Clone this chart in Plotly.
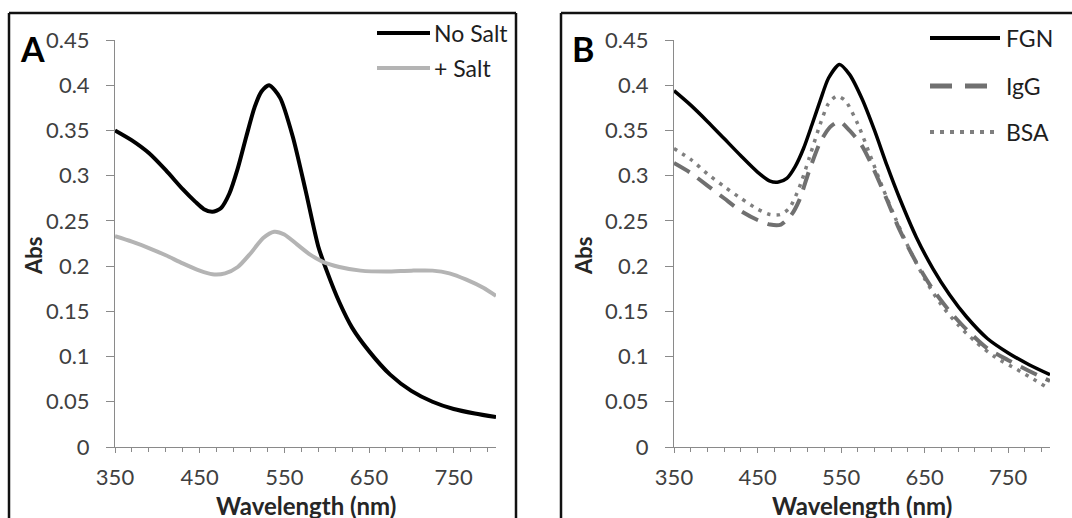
import plotly.graph_objects as go

W, H = 1072, 518

# ---------------- data ----------------
wl_nosalt = [350, 370, 390, 410, 430, 445, 455, 465, 475, 485, 495, 505, 515, 523, 532, 545, 560, 575, 590, 600, 615, 630, 650, 675, 700, 725, 750, 775, 800]
abs_nosalt = [0.350, 0.339, 0.325, 0.306, 0.285, 0.271, 0.263, 0.260, 0.264, 0.280, 0.308, 0.343, 0.376, 0.393, 0.400, 0.386, 0.343, 0.284, 0.222, 0.195, 0.160, 0.132, 0.106, 0.080, 0.062, 0.050, 0.042, 0.037, 0.033]

wl_salt = [350, 370, 390, 410, 430, 450, 465, 480, 495, 510, 525, 538, 550, 565, 580, 595, 615, 640, 670, 700, 725, 745, 765, 785, 800]
abs_salt = [0.233, 0.227, 0.220, 0.212, 0.203, 0.195, 0.191, 0.192, 0.199, 0.214, 0.231, 0.238, 0.235, 0.224, 0.213, 0.205, 0.199, 0.195, 0.194, 0.195, 0.195, 0.192, 0.185, 0.176, 0.167]

wl_fgn = [350, 370, 390, 410, 430, 450, 465, 475, 485, 495, 505, 515, 525, 535, 548, 560, 575, 590, 605, 620, 640, 660, 680, 700, 725, 750, 775, 800]
abs_fgn = [0.394, 0.378, 0.360, 0.341, 0.322, 0.304, 0.294, 0.293, 0.297, 0.310, 0.330, 0.356, 0.383, 0.408, 0.423, 0.412, 0.385, 0.350, 0.311, 0.275, 0.232, 0.197, 0.168, 0.144, 0.120, 0.104, 0.091, 0.080]

wl_igg = [350, 370, 390, 410, 430, 450, 465, 478, 490, 500, 512, 525, 537, 548, 560, 575, 590, 605, 620, 640, 660, 680, 700, 725, 750, 775, 800]
abs_igg = [0.314, 0.303, 0.289, 0.275, 0.261, 0.251, 0.246, 0.246, 0.256, 0.273, 0.306, 0.337, 0.354, 0.360, 0.350, 0.333, 0.305, 0.273, 0.240, 0.204, 0.174, 0.150, 0.130, 0.109, 0.096, 0.084, 0.073]

wl_bsa = [350, 370, 390, 410, 430, 450, 465, 477, 488, 500, 512, 525, 535, 545, 555, 570, 585, 600, 615, 630, 650, 670, 690, 710, 735, 760, 780, 800]
abs_bsa = [0.330, 0.318, 0.302, 0.288, 0.275, 0.263, 0.257, 0.257, 0.264, 0.287, 0.320, 0.357, 0.380, 0.388, 0.383, 0.357, 0.322, 0.286, 0.253, 0.222, 0.186, 0.157, 0.135, 0.117, 0.099, 0.086, 0.075, 0.064]

names_a = ["No Salt", "+ Salt"]
names_b = ["FGN", "IgG", "BSA"]
panel_labels = ["A", "B"]

x_major = [350, 450, 550, 650, 750]
x_major_text = ["350", "450", "550", "650", "750"]
y_ticks = [0, 0.05, 0.1, 0.15, 0.2, 0.25, 0.3, 0.35, 0.4, 0.45]
y_tick_text = ["0", "0.05", "0.1", "0.15", "0.2", "0.25", "0.3", "0.35", "0.4", "0.45"]
x_title = "Wavelength (nm)"
y_title = "Abs"

# ---------------- styles ----------------
FONT = "Lato, 'Open Sans', sans-serif"
AX = "#8a8a8a"
TXT = "#404040"
GRAY_SALT = "#b4b4b4"
GRAY_IGG = "#707070"
GRAY_BSA = "#7f7f7f"
DASH_IGG = "18px,10px"
DASH_BSA = "3.5px,6px"
SMOOTH = 0.7

def px(x):
    return x / W

def py(y):
    return 1 - y / H

A_X = (115, 496)
B_X = (674, 1050)
Y_PX = (447, 40)

fig = go.Figure()

fig.add_trace(go.Scatter(x=wl_nosalt, y=abs_nosalt, mode="lines", name=names_a[0],
                         line=dict(color="black", width=4, shape="spline", smoothing=SMOOTH),
                         xaxis="x", yaxis="y", showlegend=False))
fig.add_trace(go.Scatter(x=wl_salt, y=abs_salt, mode="lines", name=names_a[1],
                         line=dict(color=GRAY_SALT, width=4, shape="spline", smoothing=SMOOTH),
                         xaxis="x", yaxis="y", showlegend=False))
fig.add_trace(go.Scatter(x=wl_bsa, y=abs_bsa, mode="lines", name=names_b[2],
                         line=dict(color=GRAY_BSA, width=3.5, dash=DASH_BSA, shape="spline", smoothing=SMOOTH),
                         xaxis="x2", yaxis="y2", showlegend=False))
fig.add_trace(go.Scatter(x=wl_igg, y=abs_igg, mode="lines", name=names_b[1],
                         line=dict(color=GRAY_IGG, width=4, dash=DASH_IGG, shape="spline", smoothing=SMOOTH),
                         xaxis="x2", yaxis="y2", showlegend=False))
fig.add_trace(go.Scatter(x=wl_fgn, y=abs_fgn, mode="lines", name=names_b[0],
                         line=dict(color="black", width=3.5, shape="spline", smoothing=SMOOTH),
                         xaxis="x2", yaxis="y2", showlegend=False))

def xaxis_cfg(dom, anchor):
    return dict(domain=[px(dom[0]), px(dom[1])], range=[350, 800], anchor=anchor, automargin=False,
                showline=True, linecolor=AX, linewidth=1, showgrid=False, zeroline=False,
                tickmode="array", tickvals=x_major, ticktext=x_major_text,
                ticks="outside", ticklen=5, tickcolor=AX, tickwidth=1,
                minor=dict(tickmode="linear", tick0=350, dtick=20, ticks="outside", ticklen=4, tickcolor=AX),
                tickfont=dict(family=FONT, size=22, color=TXT), ticklabelstandoff=6)

def yaxis_cfg(anchor):
    return dict(domain=[py(Y_PX[0]), py(Y_PX[1])], range=[0, 0.45], anchor=anchor, automargin=False,
                showline=True, linecolor=AX, linewidth=1, showgrid=False, zeroline=False,
                tickmode="array", tickvals=y_ticks, ticktext=y_tick_text,
                ticks="outside", ticklen=8, tickcolor=AX, tickwidth=1,
                tickfont=dict(family=FONT, size=22, color=TXT), ticklabelstandoff=12)

def xcross_cfg(dom, overlay, anchor):
    return dict(domain=[px(dom[0]), px(dom[1])], range=[350, 800], overlaying=overlay, anchor=anchor,
                automargin=False, showline=False, showgrid=False, zeroline=False, showticklabels=False,
                tickmode="array", tickvals=x_major, ticks="inside", ticklen=5, tickcolor=AX, tickwidth=1)

fig.update_layout(
    template="none",
    width=W, height=H, margin=dict(l=0, r=0, t=0, b=0, pad=0, autoexpand=False),
    paper_bgcolor="white", plot_bgcolor="rgba(0,0,0,0)",
    xaxis=xaxis_cfg(A_X, "y"), yaxis=yaxis_cfg("x"),
    xaxis2=xaxis_cfg(B_X, "y2"), yaxis2=yaxis_cfg("x2"),
    xaxis3=xcross_cfg(A_X, "x", "y"), xaxis4=xcross_cfg(B_X, "x2", "y2"),
    dragmode=False,
)

shapes = []
annotations = []

FR = dict(color="#111111", width=2.5)
def seg(x0, y0, x1, y1):
    return dict(type="line", xref="paper", yref="paper", x0=px(x0), y0=py(y0), x1=px(x1), y1=py(y1), line=FR)
shapes += [seg(9, 13, 9, 518), seg(9, 13, 516, 13), seg(516, 13, 516, 518),
           seg(561, 13, 561, 518), seg(561, 13, 1072, 13)]

for cx in [(A_X[0] + A_X[1]) / 2, (B_X[0] + B_X[1]) / 2]:
    annotations.append(dict(text="<b>" + x_title + "</b>", xref="paper", yref="paper", x=px(cx), y=py(505),
                            showarrow=False, xanchor="center", yanchor="middle", borderpad=0,
                            font=dict(family=FONT, size=24, color="#262626")))
for cx in [33, 583]:
    annotations.append(dict(text="<b>" + y_title + "</b>", xref="paper", yref="paper", x=px(cx), y=py(256),
                            showarrow=False, xanchor="center", yanchor="middle", textangle=-90,
                            font=dict(family=FONT, size=22, color="#262626")))

for lab, cx in zip(panel_labels, [32, 583]):
    annotations.append(dict(text="<b>" + lab + "</b>", xref="paper", yref="paper", x=px(cx), y=py(48),
                            showarrow=False, xanchor="center", yanchor="middle",
                            font=dict(family=FONT, size=34, color="black")))

leg_a = [(names_a[0], "black", 4, "solid", 33), (names_a[1], GRAY_SALT, 4, "solid", 68)]
for name, col, w, d, yy in leg_a:
    shapes.append(dict(type="line", xref="paper", yref="paper", x0=px(377), x1=px(430), y0=py(yy), y1=py(yy),
                       line=dict(color=col, width=w, dash=d)))
    annotations.append(dict(text=name, xref="paper", yref="paper", x=px(432), y=py(yy), showarrow=False,
                            xanchor="left", yanchor="middle", font=dict(family=FONT, size=23, color="#1e1e1e")))
leg_b = [(names_b[0], "black", 4, "solid", 38), (names_b[1], GRAY_IGG, 5, "22px,13px", 86),
         (names_b[2], GRAY_BSA, 4, "4px,6px", 132)]
for name, col, w, d, yy in leg_b:
    shapes.append(dict(type="line", xref="paper", yref="paper", x0=px(930), x1=px(1000), y0=py(yy), y1=py(yy),
                       line=dict(color=col, width=w, dash=d)))
    annotations.append(dict(text=name, xref="paper", yref="paper", x=px(1004), y=py(yy), showarrow=False,
                            xanchor="left", yanchor="middle", font=dict(family=FONT, size=23, color="#1e1e1e")))

fig.update_layout(shapes=shapes, annotations=annotations)
post = ("document.documentElement.style.overflow='hidden';"
        "document.body.style.margin='0px';document.body.style.overflow='hidden';")
fig.write_html("out.html", post_script=post, config={"displayModeBar": False, "staticPlot": True})
